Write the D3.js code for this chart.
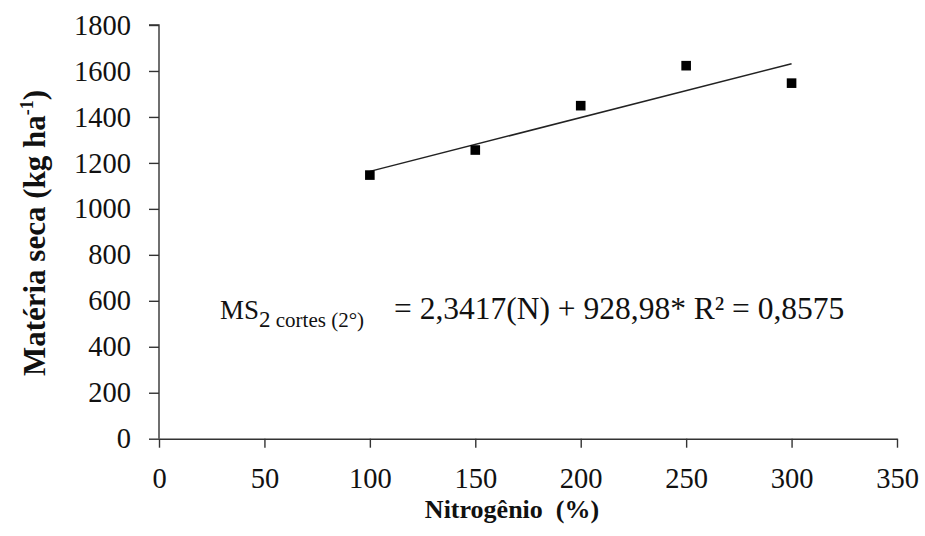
<!DOCTYPE html>
<html><head><meta charset="utf-8">
<script src="https://cdn.jsdelivr.net/npm/d3@7"></script>
<style>
html,body{margin:0;padding:0;background:#fff;}
svg{display:block;}
svg text{font-family:"Liberation Serif","Times New Roman",serif !important;fill:#111;}
</style></head>
<body>
<svg id="chart" width="925" height="536"></svg>
<script>
const nitrogen = [100, 150, 200, 250, 300];
const drymatter = [1147, 1256, 1449, 1623, 1547];
const xTicks = [0, 50, 100, 150, 200, 250, 300, 350];
const yTicks = [0, 200, 400, 600, 800, 1000, 1200, 1400, 1600, 1800];
const slope = 2.3417, intercept = 928.98, r2 = "0,8575";
const xTitle = "Nitrogênio  (%)";
const yTitle = ["Matéria seca (kg ha", "-1", ")"];

const svg = d3.select("#chart");
const x = d3.scaleLinear().domain([0, 350]).range([159, 897]);
const y = d3.scaleLinear().domain([0, 1800]).range([438.7, 25]);
const axisColor = "#333";

const gx = svg.append("g").attr("transform", `translate(0,${y(0)})`)
  .call(d3.axisBottom(x).tickValues(xTicks).tickFormat(d3.format("d")).tickSize(9).tickPadding(20).tickSizeOuter(0));
const gy = svg.append("g").attr("transform", `translate(${x(0)},0)`)
  .call(d3.axisLeft(y).tickValues(yTicks).tickFormat(d3.format("d")).tickSize(10).tickPadding(18).tickSizeOuter(0));
[gx, gy].forEach(g => {
  g.attr("font-family", null);
  g.select(".domain").attr("stroke", axisColor).attr("stroke-width", 1.4);
  g.selectAll(".tick line").attr("stroke", axisColor).attr("stroke-width", 1.4);
  g.selectAll(".tick text").attr("font-size", 28.5).attr("fill", "#111");
});
gy.select(".domain").attr("d", `M-10,${y(1800)}H0V${y(0)}`);

// regression line
const xr = d3.extent(nitrogen);
svg.append("line")
  .attr("x1", x(xr[0])).attr("y1", y(slope * xr[0] + intercept))
  .attr("x2", x(xr[1])).attr("y2", y(slope * xr[1] + intercept))
  .attr("stroke", "#222").attr("stroke-width", 1.5);

// points
svg.append("g").selectAll("rect").data(nitrogen).join("rect")
  .attr("x", (d) => x(d) - 4.8).attr("y", (d, i) => y(drymatter[i]) - 4.8)
  .attr("width", 9.6).attr("height", 9.6).attr("fill", "#000");

// x title
svg.append("text").attr("x", 512).attr("y", 518).attr("text-anchor", "middle")
  .attr("font-weight", "bold").attr("font-size", 26)
  .style("white-space", "pre").text(xTitle);

// y title
const yt = svg.append("text").attr("transform", "translate(45,233) rotate(-90)")
  .attr("text-anchor", "middle").attr("font-weight", "bold").attr("font-size", 31);
yt.append("tspan").text(yTitle[0]);
yt.append("tspan").attr("font-size", 18).attr("dy", -12).text(yTitle[1]);
yt.append("tspan").attr("dy", 12).text(yTitle[2]);

// equation
const eq = svg.append("g");
const e1 = eq.append("text").attr("x", 220).attr("y", 318.5).attr("font-size", 27);
e1.append("tspan").text("MS");
e1.append("tspan").attr("dy", 8).attr("font-size", 23).text("2");
e1.append("tspan").attr("font-size", 21).style("white-space", "pre").text(" cortes (2°)");
eq.append("text").attr("x", 394).attr("y", 318.5).attr("font-size", 31.5).style("white-space", "pre")
  .text("= " + slope.toFixed(4).replace(".", ",") + "(N) + " + intercept.toFixed(2).replace(".", ",") + "* R² = " + r2);
</script>
</body></html>
